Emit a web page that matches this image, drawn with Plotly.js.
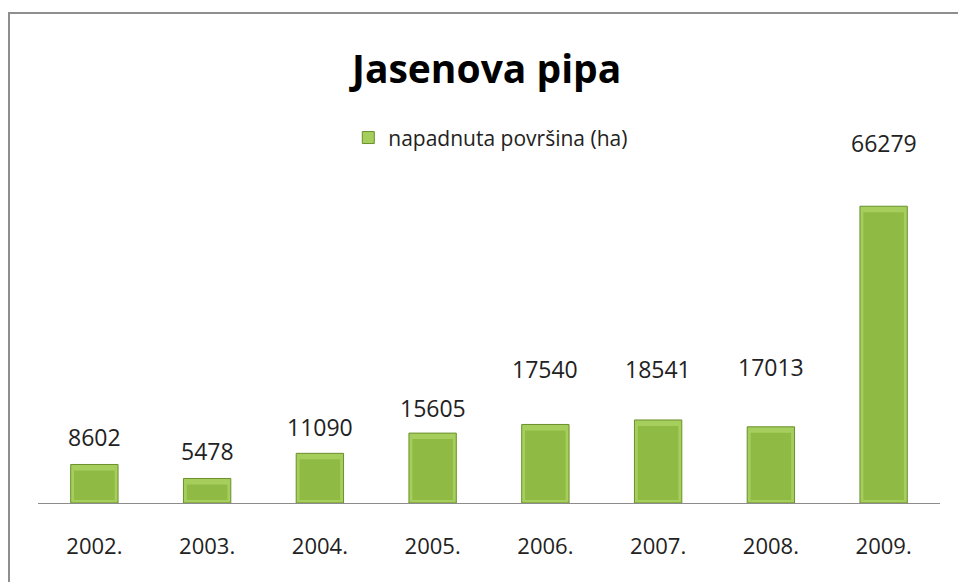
<!DOCTYPE html>
<html>
<head>
<meta charset="utf-8">
<script src="https://cdn.plot.ly/plotly-3.0.1.min.js"></script>
<style>
html,body{margin:0;padding:0;background:#fff;overflow:hidden;}
#chart{position:absolute;left:0;top:0;width:958px;height:582px;}
#frame{position:absolute;left:8px;top:12px;width:1000px;height:700px;border:2px solid #8e8e8e;pointer-events:none;}
</style>
</head>
<body>
<div id="chart"></div>
<div id="frame"></div>
<script>
const categories = ["2002.", "2003.", "2004.", "2005.", "2006.", "2007.", "2008.", "2009."];
const values = [8602, 5478, 11090, 15605, 17540, 18541, 17013, 66279];
const seriesName = "napadnuta površina (ha)";
const chartTitle = "Jasenova pipa";
// vertical lift of each value label above its bar (pixels, style only)
const labelLift = [27, 27, 26, 25, 55, 51, 60, 63];

const yMax = 90000;          // axis range
const plotHeightPx = 403;    // 582 - t(100) - b(79)
const pxToData = yMax / plotHeightPx;
const bevelTopPx = 6, bevelBottomPx = 3;   // inset of the lighter face (style)

const trace = {
  type: "bar",
  x: categories,
  y: values,
  name: seriesName,
  width: 0.42,
  marker: {color: "#A6CE5C", line: {color: "#6A8F2B", width: 1}},
  showlegend: true,
  hoverinfo: "x+y"
};

// body face to imitate the bevelled bars (lighter top edge stays visible)
const face = {
  type: "bar",
  x: categories,
  y: values.map(v => v - (bevelTopPx + bevelBottomPx) * pxToData),
  base: values.map(() => bevelBottomPx * pxToData),
  width: 0.36,
  marker: {color: "#8FBB44", line: {width: 0}},
  showlegend: false,
  hoverinfo: "skip"
};

// on a category axis a numeric x is the category's index
const annotations = categories.map((c, i) => ({
  x: i, y: values[i], xref: "x", yref: "y",
  text: String(values[i]), showarrow: false,
  yanchor: "middle", yshift: labelLift[i],
  font: {family: "Open Sans, sans-serif", size: 23, color: "#222"}
}));

const layout = {
  width: 958, height: 582,
  margin: {l: 38, r: 18, t: 100, b: 79},
  barmode: "overlay",
  paper_bgcolor: "#ffffff", plot_bgcolor: "#ffffff",
  title: {text: "<b>" + chartTitle + "</b>", x: 0.508, xanchor: "center", y: 0.88, yanchor: "middle",
          font: {family: "Open Sans, sans-serif", size: 39, color: "#000"}},
  xaxis: {
    type: "category",
    categoryorder: "array", categoryarray: categories,
    range: [-0.5, categories.length - 0.5],
    showline: true, linecolor: "#8c8c8c", linewidth: 1,
    ticks: "", ticklabelstandoff: 24,
    tickfont: {family: "Open Sans, sans-serif", size: 22, color: "#222"},
    showgrid: false, zeroline: false, fixedrange: true
  },
  yaxis: {
    range: [0, yMax], visible: false, showgrid: false, zeroline: false, fixedrange: true
  },
  showlegend: true,
  legend: {
    orientation: "h", x: 0.502, xanchor: "center", y: 0.906, yanchor: "middle",
    font: {family: "Open Sans, sans-serif", size: 21, color: "#222"},
    bgcolor: "rgba(0,0,0,0)"
  },
  annotations: annotations
};

Plotly.newPlot("chart", [trace, face], layout, {displayModeBar: false, staticPlot: true});
</script>
</body>
</html>
